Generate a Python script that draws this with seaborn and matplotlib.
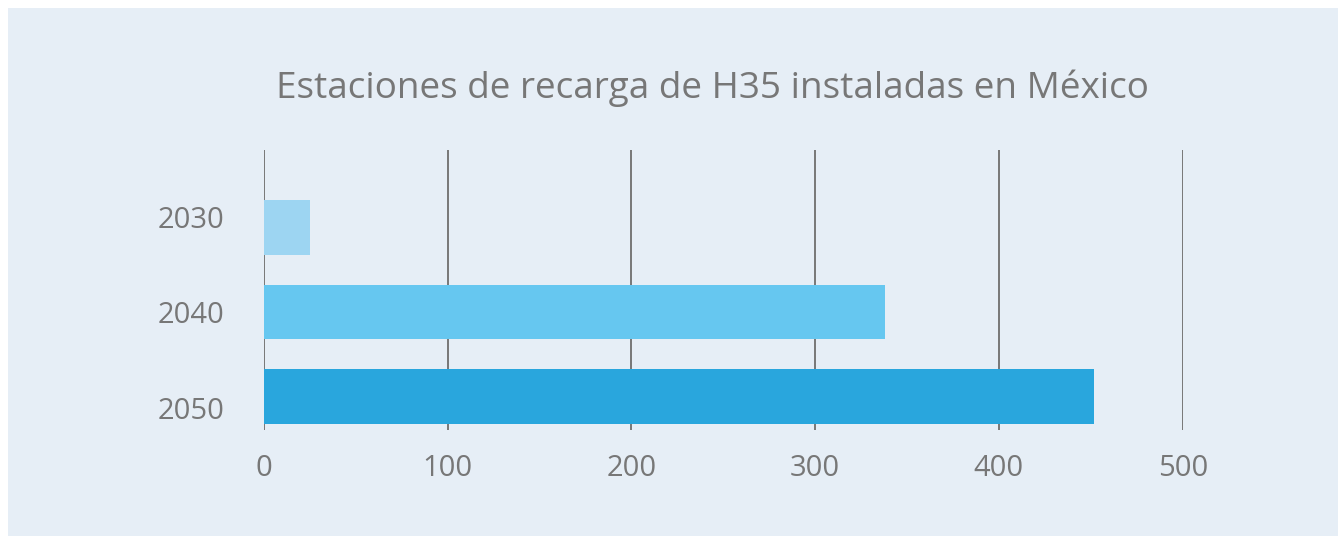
import matplotlib
matplotlib.use("Agg")
import matplotlib.pyplot as plt
import seaborn as sns
import pandas as pd

# chart data
years = ["2030", "2040", "2050"]
stations = [25, 338, 452]
bar_colors = ["#9dd5f2", "#66c7f0", "#29a6dd"]
x_ticks = [0, 100, 200, 300, 400, 500]
title = "Estaciones de recarga de H35 instaladas en México"

df = pd.DataFrame({"year": years, "stations": stations})

sns.set_style("white")
plt.rcParams["font.family"] = ["Open Sans", "DejaVu Sans"]

W, H = 1338, 536
fig = plt.figure(figsize=(W / 100, H / 100), dpi=100, facecolor="white")

# light panel with a thin white margin on top and left
panel = plt.Rectangle((8 / W, 0), 1 - 8 / W, 1 - 8 / H, transform=fig.transFigure,
                      facecolor="#e6eef6", edgecolor="none", zorder=-5)
fig.patches.append(panel)

ax = fig.add_axes([263.7 / W, 1 - 430 / H, (1182.7 - 263.7) / W, 280 / H])
ax.set_zorder(2)
ax.patch.set_alpha(0)

sns.barplot(data=df, y="year", x="stations", hue="year", palette=bar_colors,
            orient="h", width=0.65, legend=False, saturation=1, linewidth=0,
            ax=ax, zorder=2)

ax.set_xlim(0, 500)
ax.set_ylim(2.396, -0.917)
ax.set_xticks(x_ticks)
ax.set_xticklabels([str(t) for t in x_ticks])
# category labels sit a little spread out from the bar centres
ax.set_yticks([-0.13, 1, 2.13])
ax.set_yticklabels(years)
for t in x_ticks:
    ax.axvline(t, color="#777777", lw=1.4, zorder=1)

for s in ax.spines.values():
    s.set_visible(False)
ax.tick_params(axis="both", length=0, labelsize=21, labelcolor="#777777")
ax.tick_params(axis="y", pad=28)
ax.tick_params(axis="x", pad=17)
ax.set_xlabel("")
ax.set_ylabel("")

fig.text(712 / W, 1 - 88 / H, title, ha="center", va="center",
         fontsize=26.6, color="#777777", zorder=3)

fig.savefig("out.png", dpi=100, facecolor="white")
